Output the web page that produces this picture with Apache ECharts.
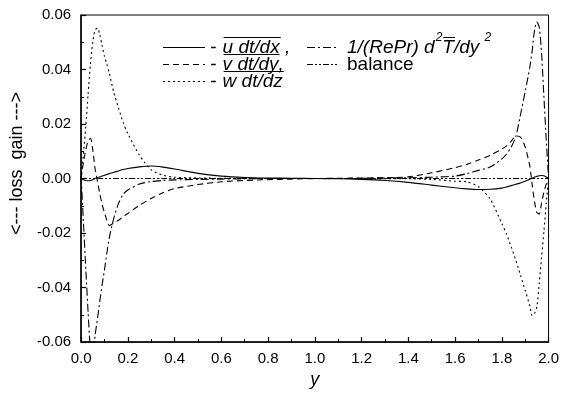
<!DOCTYPE html>
<html>
<head>
<meta charset="utf-8">
<script src="https://cdn.jsdelivr.net/npm/echarts@6/dist/echarts.min.js"></script>
<style>
  html, body { margin: 0; padding: 0; background: #fff; }
  #chart { width: 562px; height: 394px; }
</style>
</head>
<body>
<div id="chart"></div>
<script>
// wall-normal position y (0..2)
const yPos = [0, 0.01, 0.02, 0.03, 0.04, 0.05, 0.06, 0.07, 0.08, 0.09,
  0.1, 0.11, 0.12, 0.14, 0.16, 0.18, 0.2, 0.25, 0.3, 0.35, 0.4,
  0.5, 0.6, 0.7, 0.8, 0.9, 1.0, 1.1, 1.2, 1.3, 1.4, 1.5, 1.6,
  1.65, 1.7, 1.75, 1.8, 1.82, 1.84, 1.86, 1.88, 1.9,
  1.92, 1.93, 1.94, 1.95, 1.96, 1.97, 1.98, 1.99, 2.0];

// - u dt/dx (solid)
const uTerm = [0, -0.0004, -0.0007, -0.0008, -0.0007, -0.0004, 0, 0.0003, 0.0006, 0.0009,
  0.0012, 0.0015, 0.0018, 0.0023, 0.0028, 0.0033, 0.0037, 0.0043, 0.0046, 0.0042, 0.0035,
  0.0019, 0.0009, 0.0004, 0.0002, 0.0001, 0, -0.0001, -0.0003, -0.0007, -0.0014, -0.0024, -0.0034,
  -0.0038, -0.004, -0.0039, -0.0035, -0.0031, -0.0026, -0.0021, -0.0016, -0.001,
  -0.0003, 0.0001, 0.0005, 0.0008, 0.001, 0.0011, 0.001, 0.0006, 0];

// - v dt/dy (dashed)
const vTerm = [0, 0.006, 0.0105, 0.0138, 0.0148, 0.0105, 0.0035, -0.001, -0.0055, -0.0095,
  -0.0125, -0.0152, -0.0172, -0.0163, -0.0153, -0.014, -0.0128, -0.0098, -0.0073, -0.0052, -0.0037,
  -0.0022, -0.0012, -0.0007, -0.0004, -0.0002, 0, 0.0001, 0.0002, 0.0003, 0.0006, 0.0021, 0.004,
  0.0052, 0.0068, 0.0085, 0.0108, 0.012, 0.0137, 0.0156, 0.0152, 0.0115,
  0.0045, -0.0025, -0.0085, -0.0125, -0.013, -0.009, -0.005, -0.002, 0];

// - w dt/dz (dotted)
const wTerm = [0, 0.009, 0.019, 0.031, 0.042, 0.05, 0.0545, 0.0552, 0.0528, 0.0488,
  0.0448, 0.042, 0.039, 0.0315, 0.026, 0.0205, 0.0165, 0.0085, 0.0032, 0.0012, 0.0005,
  0.0002, 0.0001, 0, 0, 0, 0, 0, 0, -0.0001, -0.0001, -0.0003, -0.001,
  -0.0012, -0.003, -0.0075, -0.0165, -0.0204, -0.025, -0.03, -0.0355, -0.041,
  -0.0468, -0.0503, -0.0495, -0.047, -0.0385, -0.029, -0.0195, -0.009, 0];

// 1/(RePr) d2T/dy2 (dash-dot)
const diffTerm = [0.001, -0.016, -0.033, -0.049, -0.0625, -0.066, -0.0575, -0.0515, -0.045, -0.039,
  -0.0335, -0.0275, -0.022, -0.0145, -0.0092, -0.0058, -0.0042, -0.002, -0.0011, -0.0007, -0.0005,
  -0.0003, -0.0002, -0.0001, 0, 0, 0, 0, 0.0001, 0.0002, 0.0003, 0.0005, 0.0009,
  0.0018, 0.003, 0.0042, 0.0072, 0.009, 0.0115, 0.0155, 0.0235, 0.032,
  0.041, 0.047, 0.0545, 0.0575, 0.0555, 0.046, 0.03, 0.0143, 0];

// balance (dash-dot-dot)
const balance = [0, 0, 0, 0, 0, 0, 0, 0, 0, 0,
  0, 0, 0, 0, 0, 0, 0, 0, 0, 0, 0,
  0, 0, 0, 0, 0, 0, 0, 0, 0, 0, 0, 0,
  0, 0, 0, 0, 0, 0, 0, 0, 0,
  0, 0, 0, 0, 0, 0, 0, 0, 0];

const seriesNames = ['- u dt/dx', '- v dt/dy', '- w dt/dz', '1/(RePr) d2T/dy2', 'balance'];
const dashes = ['solid', [6, 4], [2, 3], [8, 3, 2, 3], [6, 2, 2, 2, 2, 2]];
const values = [uTerm, vTerm, wTerm, diffTerm, balance];

const fam = '"Liberation Sans", Arial, sans-serif';
const chart = echarts.init(document.getElementById('chart'));

// legend drawn by hand because of the overlined terms
const ctx = document.createElement('canvas').getContext('2d');
function measure(text, font) {
  ctx.font = font;
  return ctx.measureText(text).width;
}
const graphics = [];
const legSize = 19;
function put(x, y, text, opt) {
  opt = opt || {};
  const size = opt.size || legSize;
  const font = (opt.italic === false ? '' : 'italic ') + size + 'px ' + fam;
  graphics.push({
    type: 'text', x: x, y: y + (opt.dy || 0), z: 10,
    style: { text: text, font: font, fill: '#000', verticalAlign: 'middle' }
  });
  const w = measure(text, font);
  if (opt.over) {
    graphics.push({
      type: 'line', z: 10,
      shape: { x1: x + 1, y1: y - 10, x2: x + w + 1, y2: y - 10 },
      style: { stroke: '#000', lineWidth: 1 }
    });
  }
  return x + w;
}
function sample(x1, x2, y, dash) {
  graphics.push({
    type: 'line', z: 10,
    shape: { x1: x1, y1: y, x2: x2, y2: y },
    style: { stroke: '#000', lineWidth: 1.2, lineDash: dash === 'solid' ? null : dash }
  });
}
const rowY = [47.5, 64.5, 81.5];
let cx;
sample(163, 205, rowY[0], dashes[0]);
cx = put(210, rowY[0], '- ');
cx = put(cx + 1, rowY[0], 'u dt/dx', { over: true });
put(cx, rowY[0], ' ,');
sample(163, 205, rowY[1], dashes[1]);
cx = put(210, rowY[1], '- ');
cx = put(cx + 1, rowY[1], 'v dt/dy', { over: true });
put(cx, rowY[1], ',');
sample(163, 205, rowY[2], dashes[2]);
cx = put(210, rowY[2], '- ');
put(cx + 1, rowY[2], 'w dt/dz', { over: true });

sample(307, 338, rowY[0], dashes[3]);
cx = put(347, rowY[0], '1/(RePr) d');
cx = put(cx + 1, rowY[0], '2', { size: 12, dy: -10 });
cx = put(cx, rowY[0], 'T', { over: true });
cx = put(cx, rowY[0], '/dy ');
put(cx, rowY[0], '2', { size: 12, dy: -10 });
sample(307, 338, rowY[1], dashes[4]);
put(347, rowY[1], 'balance', { italic: false });

const option = {
  animation: false,
  grid: { left: 76, right: 13, top: 15, bottom: 43, show: true, borderColor: '#000', borderWidth: 1 },
  xAxis: {
    type: 'value', min: 0, max: 2, interval: 0.2,
    name: 'y', nameLocation: 'middle', nameGap: 23,
    nameTextStyle: { fontFamily: fam, fontSize: 18, fontStyle: 'italic', color: '#000' },
    axisLine: { onZero: false, lineStyle: { color: '#000', width: 1.5 } },
    axisTick: { inside: true, length: 5, lineStyle: { color: '#000', width: 1.2 } },
    minorTick: { show: true, splitNumber: 2, length: 3, lineStyle: { color: '#000', width: 1 } },
    splitLine: { show: false },
    axisLabel: { margin: 9, fontFamily: fam, fontSize: 15, color: '#000', formatter: v => v.toFixed(1) }
  },
  yAxis: {
    type: 'value', min: -0.06, max: 0.06, interval: 0.02,
    name: '<--- loss  gain --->', nameLocation: 'middle', nameGap: 52, nameRotate: 90,
    nameTextStyle: { fontFamily: fam, fontSize: 18, color: '#000', padding: [0, 0, 0, 30] },
    axisLine: { onZero: false, lineStyle: { color: '#000', width: 1.5 } },
    axisTick: { inside: true, length: 5, lineStyle: { color: '#000', width: 1.2 } },
    minorTick: { show: true, splitNumber: 2, length: 3, lineStyle: { color: '#000', width: 1 } },
    splitLine: { show: false },
    axisLabel: { margin: 10, fontFamily: fam, fontSize: 15, color: '#000', formatter: v => v.toFixed(2) }
  },
  graphic: graphics,
  series: values.map((vals, i) => ({
    name: seriesNames[i],
    type: 'line',
    data: yPos.map((y, k) => [y, vals[k]]),
    showSymbol: false,
    smooth: 0.25,
    clip: true,
    lineStyle: { color: '#000', width: 1.1, type: dashes[i] }
  }))
};

chart.setOption(option);
</script>
</body>
</html>
